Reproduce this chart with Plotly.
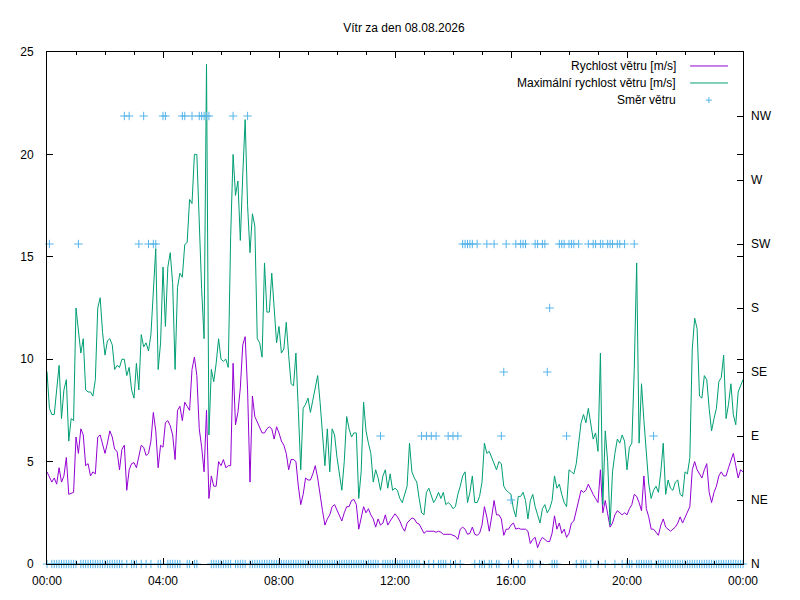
import pandas as pd
import plotly.graph_objects as go

# 5-minute samples, 00:00 .. 24:00
cas = pd.date_range("2026-08-08 00:00", periods=289, freq="5min")

# prumerna rychlost vetru [m/s]
rychlost = [
    4.5, 4.2, 4.0, 4.2, 3.9, 4.7, 4.0, 4.3, 5.2, 3.4, 3.45, 3.5,
    6.2, 5.4, 6.6, 6.3, 4.8, 4.9, 4.3, 4.5, 4.4, 6.2, 6.3, 5.9,
    5.4, 5.9, 6.5, 6.2, 5.6, 5.5, 4.6, 5.6, 5.8, 3.6, 4.6, 4.9,
    4.95, 4.7, 5.2, 5.8, 5.7, 5.3, 5.4, 6.0, 7.4, 6.5, 4.7, 5.8,
    5.7, 6.9, 7.0, 6.75, 6.3, 5.1, 7.5, 7.7, 7.0, 7.9, 7.7, 7.5,
    9.5, 10.1, 9.2, 6.6, 5.7, 4.5, 7.5, 3.2, 4.3, 3.8, 3.8, 5.0,
    4.8, 5.1, 4.7, 4.8, 4.8, 9.8, 6.8, 7.4, 8.6, 10.7, 11.1, 8.5,
    4.0, 8.2, 7.2, 6.9, 6.6, 6.4, 6.4, 6.6, 6.7, 6.6, 6.1, 6.7,
    6.4, 6.0, 5.8, 5.4, 4.6, 5.1, 5.1, 5.0, 3.8, 2.9, 3.4, 4.2,
    4.1, 4.1, 4.4, 4.8, 4.2, 3.3, 2.6, 1.9, 2.2, 2.4, 2.8, 2.9,
    2.6, 2.4, 2.1, 2.5, 2.8, 2.8, 3.1, 3.15, 2.9, 1.7, 2.3, 2.8,
    2.5, 2.7, 2.4, 2.2, 1.8, 2.2, 1.9, 2.0, 2.4, 1.9, 2.1, 2.3,
    2.45, 2.3, 2.1, 1.8, 1.6, 2.0, 2.15, 2.25, 2.2, 2.0, 1.95, 1.7,
    1.5, 1.6, 1.6, 1.6, 1.6, 1.55, 1.6, 1.55, 1.45, 1.45, 1.45, 1.45,
    1.4, 1.35, 1.2, 1.7, 1.8, 1.7, 1.45, 1.5, 1.8, 1.45, 1.4, 1.5,
    1.9, 2.8, 2.3, 1.6, 2.3, 3.1, 2.4, 2.4, 2.2, 1.4, 1.7, 1.7,
    1.9, 2.0, 1.7, 1.75, 1.7, 1.7, 1.7, 1.6, 1.0, 1.2, 1.3, 0.8,
    1.1, 1.3, 1.2, 1.1, 1.1, 1.5, 2.35, 1.7, 2.0, 1.5, 1.7, 1.3,
    1.5, 2.0, 2.1, 2.6, 3.1, 3.6, 3.5, 3.6, 3.9, 3.6, 3.4, 3.2,
    3.0, 4.6, 2.5, 3.1, 2.4, 1.8, 2.0, 2.4, 2.6, 2.5, 2.4, 2.5,
    2.4, 2.7, 2.9, 3.4, 3.3, 3.0, 2.6, 4.3, 2.7, 2.3, 1.7, 1.7,
    1.55, 1.4, 1.9, 2.2, 1.8, 1.7, 1.6, 1.7, 1.8, 2.0, 2.3, 2.0,
    2.3, 2.5, 2.8, 4.6, 5.0, 4.6, 4.4, 4.2, 4.6, 4.9, 3.5, 3.0,
    3.5, 3.8, 4.3, 4.5, 4.3, 4.3, 4.7, 5.1, 5.4, 4.8, 4.2, 4.6, 4.5,
]

# maximalni rychlost vetru [m/s]
naraz = [
    9.4, 7.6, 7.3, 7.3, 8.5, 9.7, 7.1, 8.5, 9.0, 6.0, 7.1, 7.0,
    12.5, 11.3, 10.3, 11.0, 8.5, 8.4, 8.4, 8.2, 9.0, 12.5, 13.0, 11.3,
    10.2, 10.9, 11.0, 10.7, 9.5, 9.7, 9.6, 10.0, 10.0, 9.2, 9.6, 8.5,
    8.1, 9.8, 8.5, 11.2, 10.6, 10.8, 10.4, 11.2, 13.3, 15.4, 9.5, 10.8,
    14.5, 11.6, 14.5, 15.2, 13.7, 9.5, 13.5, 14.2, 14.0, 15.6, 15.7, 17.8,
    17.6, 20.0, 20.0, 16.6, 13.4, 11.0, 24.4, 6.3, 9.5, 8.9, 9.8, 11.0,
    10.0, 9.9, 10.0, 9.6, 16.0, 20.0, 18.0, 18.7, 15.8, 19.0, 21.7, 17.5,
    15.2, 17.1, 16.5, 11.0, 10.8, 10.1, 14.7, 12.3, 12.3, 14.2, 12.2, 10.8,
    11.6, 10.3, 10.5, 11.8, 10.2, 8.8, 8.7, 10.3, 7.5, 4.6, 7.6, 7.8,
    8.1, 7.4, 8.0, 8.6, 9.2, 7.9, 6.5, 4.8, 6.6, 4.5, 6.6, 6.3,
    5.2, 4.4, 3.6, 5.0, 7.2, 6.6, 6.2, 6.4, 6.4, 3.2, 4.5, 7.9,
    6.5, 5.9, 5.4, 4.0, 4.6, 4.2, 3.6, 4.3, 4.6, 3.7, 4.4, 3.6,
    3.7, 3.6, 3.2, 3.0, 3.4, 3.8, 5.9, 4.5, 4.2, 4.0, 3.2, 2.5,
    2.4, 3.5, 3.7, 3.4, 3.0, 3.2, 3.5, 3.2, 3.5, 2.9, 3.0, 2.9,
    2.7, 2.8, 3.4, 3.8, 4.3, 4.5, 3.0, 3.5, 4.3, 3.0, 3.0, 3.3,
    4.0, 5.9, 5.4, 5.5, 5.2, 4.9, 4.6, 5.0, 4.9, 3.8, 3.6, 3.5,
    3.4, 2.7, 2.3, 3.3, 3.3, 3.5, 3.1, 2.2, 3.1, 3.4, 2.8, 2.4,
    2.0, 2.7, 2.9, 2.5, 2.7, 3.1, 4.3, 3.7, 3.9, 3.4, 3.0, 2.8,
    4.6, 4.5, 4.4, 4.9, 5.8, 6.9, 7.3, 6.9, 7.6, 6.8, 6.1, 6.4,
    5.5, 10.3, 2.9, 6.5, 5.0, 1.9, 4.5, 5.4, 6.1, 5.9, 6.3, 6.0,
    4.6, 5.7, 5.9, 9.5, 14.7, 5.9, 8.8, 7.0, 5.3, 3.9, 3.2, 3.6,
    3.8, 3.5, 4.5, 5.9, 3.4, 4.1, 3.7, 3.6, 4.0, 4.1, 3.4, 3.3,
    4.5, 4.4, 5.2, 10.5, 12.0, 11.5, 8.2, 8.1, 9.2, 9.0, 7.6, 6.5,
    7.1, 7.6, 8.9, 9.1, 10.2, 7.1, 7.8, 8.8, 7.3, 6.8, 8.4, 8.7, 9.0,
]

# smer vetru
smer = [
    "N", "SW", "N", "N", "N", "N", "N", "N", "N", "N", "N", "N",
    "N", "SW", "N", "N", "N", "N", "N", "N", "N", "N", "N", "N",
    "N", "N", "N", "N", "N", "N", "N", "N", "NW", "N", "NW", "N",
    "N", "N", "SW", "N", "NW", "N", "SW", "N", "SW", "SW", "N", "N",
    "NW", "NW", "N", "N", "N", "N", "N", "N", "NW", "NW", "N", "N",
    "NW", "N", "N", "NW", "NW", "NW", "NW", "NW", "N", "N", "N", "N",
    "N", "N", "N", "N", "N", "NW", "N", "N", "N", "N", "N", "NW",
    "N", "N", "N", "N", "N", "N", "N", "N", "N", "N", "N", "N",
    "N", "N", "N", "N", "N", "N", "N", "N", "N", "N", "N", "N",
    "N", "N", "N", "N", "N", "N", "N", "N", "N", "N", "N", "N",
    "N", "N", "N", "N", "N", "N", "N", "N", "N", "N", "N", "N",
    "N", "N", "N", "N", "N", "N", "E", "N", "N", "N", "N", "N",
    "N", "N", "N", "N", "N", "N", "N", "N", "N", "N", "N", "E",
    "N", "E", "N", "E", "N", "E", "N", "N", "N", "N", "E", "N",
    "E", "N", "E", "N", "SW", "SW", "SW", "SW", "SW", "N", "SW", "N",
    "N", "N", "SW", "N", "N", "SW", "N", "N", "E", "SE", "SW", "N",
    "NE", "N", "SW", "N", "SW", "SW", "SW", "N", "N", "N", "SW", "SW",
    "N", "SW", "SW", "SE", "S", "N", "N", "N", "SW", "SW", "SW", "E",
    "SW", "SW", "SW", "N", "SW", "N", "N", "N", "SW", "N", "SW", "SW",
    "N", "SW", "SW", "N", "SW", "SW", "SW", "N", "SW", "SW", "N", "SW",
    "N", "N", "N", "SW", "N", "N", "N", "N", "N", "N", "N", "E",
    "N", "N", "N", "N", "N", "N", "N", "N", "N", "N", "N", "N",
    "N", "N", "N", "N", "N", "N", "N", "N", "N", "N", "N", "N",
    "N", "N", "N", "N", "N", "N", "N", "N", "N", "N", "N", "N", "N",
]

strany = ["N", "NE", "E", "SE", "S", "SW", "W", "NW"]
stupne = [0, 45, 90, 135, 180, 225, 270, 315]
smer_deg = [stupne[strany.index(s)] for s in smer]

fnt = dict(family="Liberation Sans, Arial, sans-serif", size=12, color="black")

fig = go.Figure()
fig.add_trace(go.Scatter(x=cas, y=rychlost, mode="lines", name="Rychlost větru [m/s]",
                         line=dict(color="#9400d3", width=1)))
fig.add_trace(go.Scatter(x=cas, y=naraz, mode="lines", name="Maximální rychlost větru [m/s]",
                         line=dict(color="#009e73", width=1)))
fig.add_trace(go.Scatter(x=cas, y=smer_deg, mode="markers", name="Směr větru", yaxis="y2",
                         cliponaxis=False,
                         marker=dict(symbol="cross-thin-open", size=6, color="#56b4e9",
                                     line=dict(color="#56b4e9", width=1))))

# page body has an 8px margin, so the figure is 792x592
fig.update_layout(
    width=792, height=592,
    margin=dict(l=36, r=57, t=44, b=36),
    paper_bgcolor="white", plot_bgcolor="white",
    font=fnt, showlegend=False,
    title=dict(text="Vítr za den 08.08.2026", x=0.5, xanchor="center",
               y=0.966, yanchor="middle", font=fnt),
    xaxis=dict(type="date", range=["2026-08-08 00:00", "2026-08-09 00:00"],
               tick0="2026-08-08 00:00", dtick=4 * 3600000, tickformat="%H:%M",
               ticks="inside", ticklen=6, tickcolor="black",
               minor=dict(dtick=3600000, ticks="inside", ticklen=3, tickcolor="black"),
               showline=True, linecolor="black", linewidth=1, mirror="ticks",
               showgrid=False, zeroline=False, ticklabelstandoff=6),
    yaxis=dict(range=[0, 25], dtick=5, ticks="inside", ticklen=6, tickcolor="black",
               showline=True, linecolor="black", linewidth=1, mirror="ticks",
               showgrid=False, zeroline=False, ticklabelstandoff=10),
    yaxis2=dict(range=[0, 360], overlaying="y", side="right",
                tickvals=stupne, ticktext=strany,
                ticks="inside", ticklen=6, tickcolor="black",
                showline=False, showgrid=False, zeroline=False, ticklabelstandoff=7),
)

# legenda vpravo nahore (text vlevo od vzorku jako v gnuplotu)
leg_y = [0.9727, 0.9395, 0.906]
leg_txt = ["Rychlost větru [m/s]", "Maximální rychlost větru [m/s]", "Směr větru"]
for yy, tt in zip(leg_y, leg_txt):
    fig.add_annotation(xref="paper", yref="paper", x=0.9063, y=yy, text=tt,
                       showarrow=False, xanchor="right", yanchor="middle", font=fnt)
for yy, cc in zip(leg_y[:2], ["#9400d3", "#009e73"]):
    fig.add_shape(type="line", xref="paper", yref="paper", x0=0.924, x1=0.9785,
                  y0=yy, y1=yy, line=dict(color=cc, width=1))
fig.add_shape(type="line", xref="paper", yref="paper", xsizemode="pixel", xanchor=0.951,
              x0=-3, x1=3, y0=leg_y[2], y1=leg_y[2], line=dict(color="#56b4e9", width=1))
fig.add_shape(type="line", xref="paper", yref="paper", ysizemode="pixel", yanchor=leg_y[2],
              x0=0.951, x1=0.951, y0=-3, y1=3, line=dict(color="#56b4e9", width=1))

fig.write_html("out.html")
